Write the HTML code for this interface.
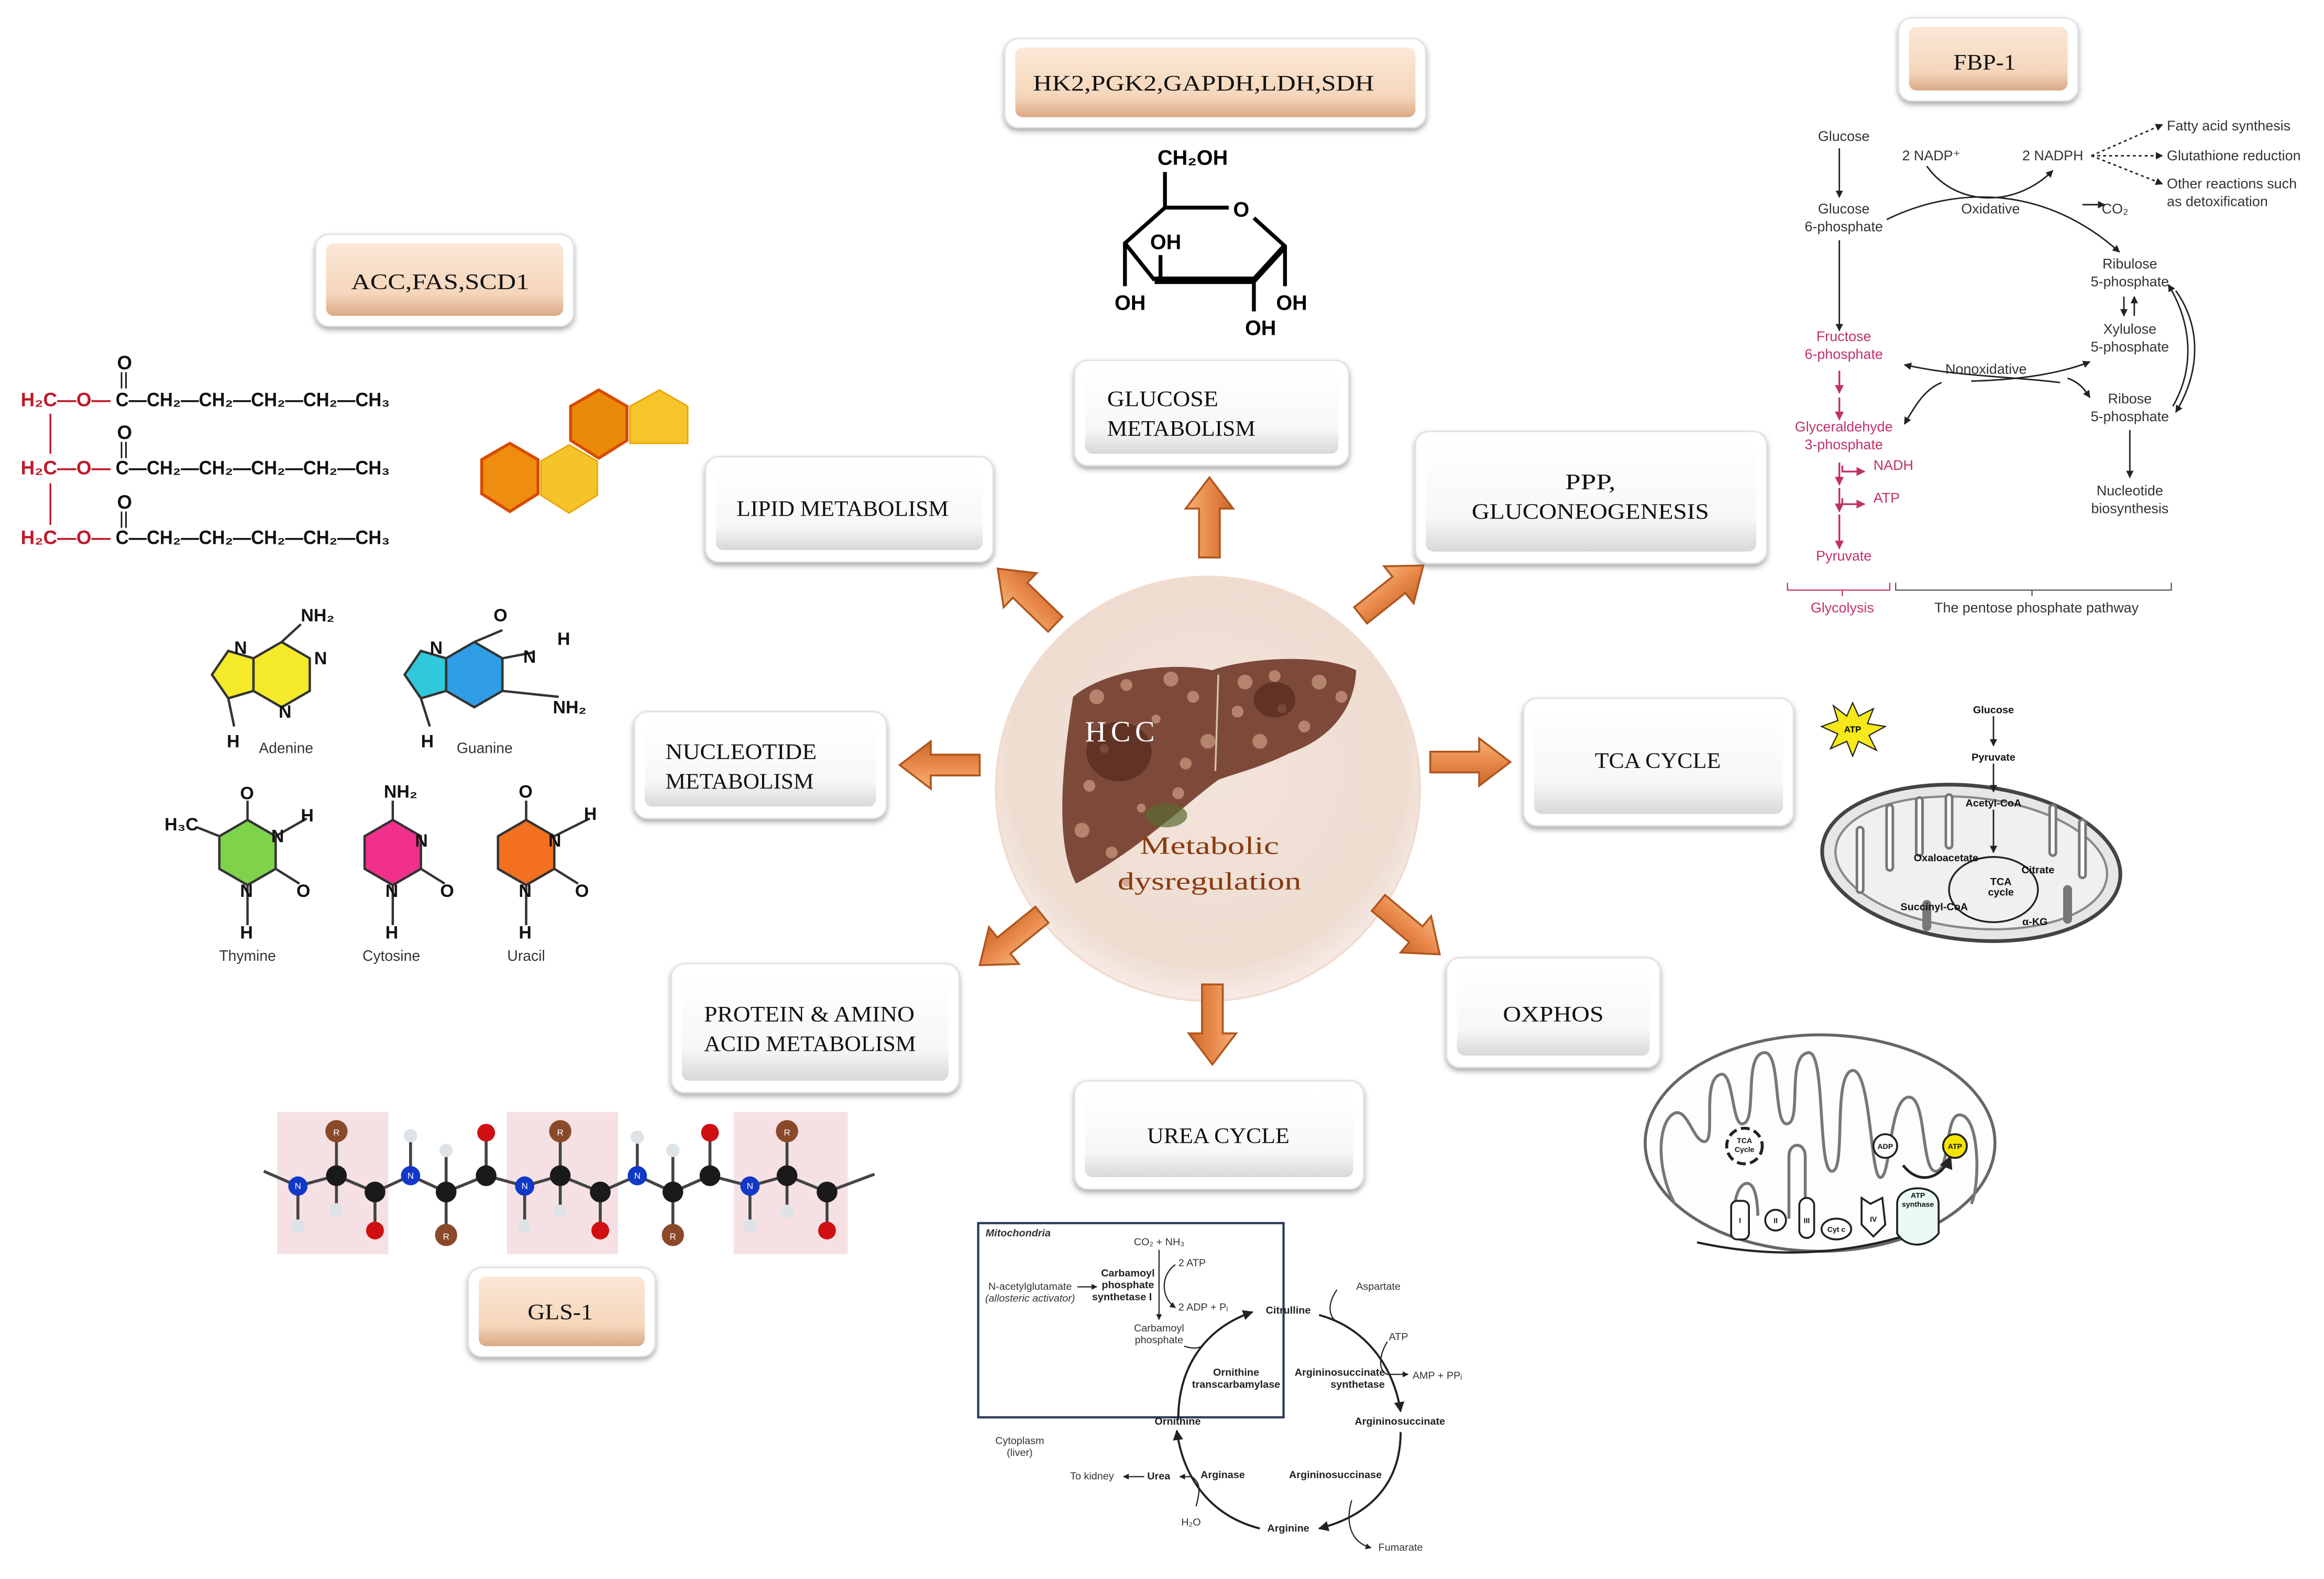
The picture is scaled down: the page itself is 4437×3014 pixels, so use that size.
<!DOCTYPE html>
<html><head><meta charset="utf-8"><style>
html,body{margin:0;padding:0;background:#fff;}
svg{display:block;}
text{font-family:"Liberation Sans",sans-serif;}
text.bx{font-family:"Liberation Serif","Noto Serif CJK SC",serif;font-size:15px;fill:#111;}
text.sf{font-family:"Liberation Serif",serif;}
.pp{font-size:9.5px;fill:#333;}
.pk{font-size:9.5px;fill:#c0306a;}
.ur{font-size:7px;fill:#333;}
.ub{font-size:7px;fill:#222;font-weight:bold;}
.ch{font-weight:bold;font-size:13px;}
</style></head><body>
<svg xmlns="http://www.w3.org/2000/svg" width="4437" height="3014" viewBox="0 0 1568 1065">
<defs>
<linearGradient id="gw" x1="0" y1="0" x2="0" y2="1"><stop offset="0" stop-color="#ffffff"/><stop offset="0.7" stop-color="#f7f7f7"/><stop offset="1" stop-color="#d8d8d8"/></linearGradient>
<linearGradient id="gb" x1="0" y1="0" x2="0" y2="1"><stop offset="0" stop-color="#fbe8d6"/><stop offset="0.7" stop-color="#f5d6bb"/><stop offset="1" stop-color="#d9a985"/></linearGradient>
<radialGradient id="gc" cx="0.5" cy="0.45" r="0.55"><stop offset="0" stop-color="#f3e4dc"/><stop offset="0.85" stop-color="#eedcd0"/><stop offset="1" stop-color="#f6ece6"/></radialGradient>
<linearGradient id="ga" x1="0" y1="0" x2="0" y2="1"><stop offset="0" stop-color="#f7b27a"/><stop offset="0.5" stop-color="#e8894a"/><stop offset="1" stop-color="#c8682c"/></linearGradient>
<filter id="sh" x="-10%" y="-10%" width="120%" height="130%"><feGaussianBlur in="SourceAlpha" stdDeviation="2"/><feOffset dy="2"/><feComponentTransfer><feFuncA type="linear" slope="0.35"/></feComponentTransfer><feMerge><feMergeNode/><feMergeNode in="SourceGraphic"/></feMerge></filter>
<path id="arr" d="M0,-7 L33,-7 L33,-16 L54,0 L33,16 L33,7 L0,7 Z" fill="url(#ga)" stroke="#b0561e" stroke-width="1.3"/>
<marker id="mk" viewBox="0 0 10 10" refX="9" refY="5" markerWidth="5" markerHeight="5" orient="auto"><path d="M0,0 L10,5 L0,10 Z" fill="#222"/></marker>
<marker id="mp" viewBox="0 0 10 10" refX="9" refY="5" markerWidth="5" markerHeight="5" orient="auto"><path d="M0,0 L10,5 L0,10 Z" fill="#c0306a"/></marker>
</defs>

<!-- ===== Boxes ===== -->
<g filter="url(#sh)">
<rect x="678" y="26" width="284" height="60" rx="9" fill="#fff" stroke="#e2e2e2"/>
<rect x="685" y="32" width="270" height="47" rx="5" fill="url(#gb)"/>
<rect x="1281" y="12" width="121" height="56" rx="9" fill="#fff" stroke="#e2e2e2"/>
<rect x="1288" y="18" width="107" height="43" rx="5" fill="url(#gb)"/>
<rect x="213" y="158" width="174" height="62" rx="9" fill="#fff" stroke="#e2e2e2"/>
<rect x="220" y="164" width="160" height="49" rx="5" fill="url(#gb)"/>
<rect x="316" y="855" width="126" height="60" rx="9" fill="#fff" stroke="#e2e2e2"/>
<rect x="323" y="861" width="112" height="47" rx="5" fill="url(#gb)"/>

<rect x="725" y="243" width="185" height="71" rx="9" fill="#fff" stroke="#e2e2e2"/>
<rect x="732" y="250" width="171" height="56" rx="5" fill="url(#gw)"/>
<rect x="476" y="308" width="194" height="71" rx="9" fill="#fff" stroke="#e2e2e2"/>
<rect x="483" y="315" width="180" height="56" rx="5" fill="url(#gw)"/>
<rect x="955" y="291" width="237" height="89" rx="9" fill="#fff" stroke="#e2e2e2"/>
<rect x="962" y="298" width="223" height="74" rx="5" fill="url(#gw)"/>
<rect x="428" y="480" width="170" height="72" rx="9" fill="#fff" stroke="#e2e2e2"/>
<rect x="435" y="487" width="156" height="57" rx="5" fill="url(#gw)"/>
<rect x="1028" y="471" width="182" height="86" rx="9" fill="#fff" stroke="#e2e2e2"/>
<rect x="1035" y="478" width="168" height="71" rx="5" fill="url(#gw)"/>
<rect x="453" y="650" width="194" height="87" rx="9" fill="#fff" stroke="#e2e2e2"/>
<rect x="460" y="657" width="180" height="72" rx="5" fill="url(#gw)"/>
<rect x="976" y="646" width="144" height="74" rx="9" fill="#fff" stroke="#e2e2e2"/>
<rect x="983" y="653" width="130" height="59" rx="5" fill="url(#gw)"/>
<rect x="725" y="729" width="195" height="73" rx="9" fill="#fff" stroke="#e2e2e2"/>
<rect x="732" y="736" width="181" height="58" rx="5" fill="url(#gw)"/>
</g>
<text class="bx" x="697" y="61" textLength="230" lengthAdjust="spacingAndGlyphs">HK2,PGK2,GAPDH,LDH,SDH</text>
<text class="bx" x="1318" y="47" textLength="42" lengthAdjust="spacingAndGlyphs">FBP-1</text>
<text class="bx" x="237" y="195" textLength="120" lengthAdjust="spacingAndGlyphs">ACC,FAS,SCD1</text>
<text class="bx" x="356" y="890" textLength="44" lengthAdjust="spacingAndGlyphs">GLS-1</text>
<text class="bx" x="747" y="274" textLength="75" lengthAdjust="spacingAndGlyphs">GLUCOSE</text>
<text class="bx" x="747" y="294" textLength="100" lengthAdjust="spacingAndGlyphs">METABOLISM</text>
<text class="bx" x="497" y="348" textLength="143" lengthAdjust="spacingAndGlyphs">LIPID METABOLISM</text>
<text class="bx" x="1056" y="330" textLength="34" lengthAdjust="spacingAndGlyphs">PPP,</text>
<text class="bx" x="993" y="350" textLength="160" lengthAdjust="spacingAndGlyphs">GLUCONEOGENESIS</text>
<text class="bx" x="449" y="512" textLength="102" lengthAdjust="spacingAndGlyphs">NUCLEOTIDE</text>
<text class="bx" x="449" y="532" textLength="100" lengthAdjust="spacingAndGlyphs">METABOLISM</text>
<text class="bx" x="1076" y="518" textLength="85" lengthAdjust="spacingAndGlyphs">TCA CYCLE</text>
<text class="bx" x="475" y="689" textLength="142" lengthAdjust="spacingAndGlyphs">PROTEIN &amp; AMINO</text>
<text class="bx" x="475" y="709" textLength="143" lengthAdjust="spacingAndGlyphs">ACID METABOLISM</text>
<text class="bx" x="1014" y="689" textLength="68" lengthAdjust="spacingAndGlyphs">OXPHOS</text>
<text class="bx" x="774" y="771" textLength="96" lengthAdjust="spacingAndGlyphs">UREA CYCLE</text>

<!-- ===== Center ===== -->
<circle cx="815" cy="532" r="143" fill="url(#gc)" stroke="#f2dccf" stroke-width="1.5"/>
<path d="M724,470 C745,452 790,446 818,452 C840,444 890,440 915,452 C914,478 898,498 870,508 C850,518 832,522 822,526 C800,542 770,572 726,596 C712,570 716,520 724,470 Z" fill="#7d4a3a"/>
<g fill="#c8987f" opacity="0.75">
<circle cx="740" cy="470" r="5"/><circle cx="760" cy="462" r="4"/><circle cx="790" cy="458" r="5"/><circle cx="805" cy="470" r="4"/><circle cx="815" cy="500" r="5"/><circle cx="780" cy="485" r="3"/><circle cx="800" cy="515" r="4"/><circle cx="735" cy="530" r="4"/><circle cx="730" cy="560" r="5"/><circle cx="750" cy="575" r="4"/><circle cx="770" cy="545" r="3"/><circle cx="795" cy="535" r="4"/><circle cx="840" cy="460" r="5"/><circle cx="860" cy="456" r="4"/><circle cx="890" cy="460" r="5"/><circle cx="905" cy="470" r="4"/><circle cx="880" cy="490" r="4"/><circle cx="850" cy="500" r="5"/><circle cx="835" cy="480" r="4"/><circle cx="865" cy="478" r="3"/><circle cx="745" cy="505" r="3"/><circle cx="760" cy="595" r="3"/></g>
<ellipse cx="755" cy="507" rx="22" ry="20" fill="#4f2418" opacity="0.6"/>
<ellipse cx="860" cy="472" rx="14" ry="12" fill="#4f2418" opacity="0.6"/>
<path d="M822,455 L820,520" stroke="#d8c0b0" stroke-width="1.2"/>
<ellipse cx="787" cy="550" rx="14" ry="8" fill="#5a6a30" opacity="0.7"/>
<text class="sf" x="732" y="500" font-size="20" fill="#fff" letter-spacing="3">HCC</text>
<text class="sf" x="816" y="576" text-anchor="middle" font-size="17" fill="#8a3a10" textLength="94" lengthAdjust="spacingAndGlyphs">Metabolic</text>
<text class="sf" x="816" y="600" text-anchor="middle" font-size="17" fill="#8a3a10" textLength="124" lengthAdjust="spacingAndGlyphs">dysregulation</text>

<!-- arrows -->
<use href="#arr" transform="translate(816,376) rotate(-90)"/>
<use href="#arr" transform="translate(712,421) rotate(-136)"/>
<use href="#arr" transform="translate(918,415) rotate(-38.5)"/>
<use href="#arr" transform="translate(661,516) rotate(180)"/>
<use href="#arr" transform="translate(965,514)"/>
<use href="#arr" transform="translate(703,617) rotate(141)"/>
<use href="#arr" transform="translate(930,609) rotate(40)"/>
<use href="#arr" transform="translate(818,664) rotate(90)"/>

<!-- ===== Glucose structure ===== -->
<g stroke="#000" stroke-width="2.6" fill="none">
<path d="M786,116 L786,140 L829,140"/>
<path d="M846,147 L867,166 L867,193"/>
<path d="M786,140 L759,164 L759,193"/>
<path d="M759,164 L779,189"/>
<path d="M779,189 L846,189" stroke-width="5"/>
<path d="M846,189 L867,166" stroke-width="4"/>
<path d="M846,189 L846,210"/>
<path d="M783,172 L783,187"/>
</g>
<g font-weight="bold" font-size="14" fill="#000">
<text x="781" y="111">CH₂OH</text>
<text x="832" y="146">O</text>
<text x="776" y="168">OH</text>
<text x="752" y="209">OH</text>
<text x="861" y="209">OH</text>
<text x="840" y="226">OH</text>
</g>

<!-- ===== Lipid ===== -->
<g class="ch">
<text x="14" y="274" fill="#c01828">H₂C—O—</text><text x="78" y="274" fill="#111" textLength="185" lengthAdjust="spacingAndGlyphs">C—CH₂—CH₂—CH₂—CH₂—CH₃</text>
<text x="14" y="320" fill="#c01828">H₂C—O—</text><text x="78" y="320" fill="#111" textLength="185" lengthAdjust="spacingAndGlyphs">C—CH₂—CH₂—CH₂—CH₂—CH₃</text>
<text x="14" y="367" fill="#c01828">H₂C—O—</text><text x="78" y="367" fill="#111" textLength="185" lengthAdjust="spacingAndGlyphs">C—CH₂—CH₂—CH₂—CH₂—CH₃</text>
<text x="79" y="249" fill="#111">O</text><text x="79" y="296" fill="#111">O</text><text x="79" y="343" fill="#111">O</text>
</g>
<g stroke="#111" stroke-width="1"><path d="M82,251 V262 M85,251 V262 M82,298 V309 M85,298 V309 M82,345 V356 M85,345 V356"/></g>
<path d="M34,279 V306 M34,326 V354" stroke="#c01828" stroke-width="1.2"/>
<polygon points="344,299 363,310 363,333 344,345 325,333 325,310" fill="#ee8d10" stroke="#d84a00" stroke-width="2"/>
<polygon points="384,300 403,311 403,334 384,346 365,334 365,311" fill="#f5c42a" stroke="#eaa400" stroke-width="1"/>
<polygon points="404,263 423,274 423,297 404,309 385,297 385,274" fill="#e98a0a" stroke="#d84a00" stroke-width="2"/>
<polygon points="445,263 464,274 464,299 425,299 425,274" fill="#f6c52a" stroke="#eaa400" stroke-width="1"/>

<!-- ===== Nucleobases ===== -->
<g stroke="#333" stroke-width="1.6">
<polygon points="190,433 209,444 209,466 190,477 171,466 171,444" fill="#f5ea2a"/>
<polygon points="171,444 171,466 154,471 143,455 154,439" fill="#f5ea2a"/>
<polygon points="320,433 339,444 339,466 320,477 301,466 301,444" fill="#2f9ee6"/>
<polygon points="301,444 301,466 284,471 273,455 284,439" fill="#2fc9d9"/>
<polygon points="167,553 186,564 186,586 167,597 148,586 148,564" fill="#7ed34a"/>
<polygon points="265,553 284,564 284,586 265,597 246,586 246,564" fill="#f0308a"/>
<polygon points="355,553 374,564 374,586 355,597 336,586 336,564" fill="#f27020"/>
<path d="M203,421 L190,433 M158,490 L154,471 M339,425 L320,433 M360,440 L339,444 M377,470 L339,466 M290,490 L284,471 M133,558 L148,564 M167,540 L167,553 M186,586 L202,596 M207,552 L186,564 M167,597 L167,624 M265,540 L265,553 M284,586 L300,596 M265,597 L265,624 M355,540 L355,553 M374,586 L390,596 M398,552 L374,564 M355,597 L355,624" fill="none"/>
</g>
<g font-size="12" font-weight="bold" fill="#111">
<text x="203" y="419">NH₂</text><text x="153" y="504">H</text><text x="158" y="441">N</text><text x="212" y="448">N</text><text x="188" y="484">N</text>
<text x="333" y="419">O</text><text x="376" y="435">H</text><text x="373" y="481">NH₂</text><text x="284" y="504">H</text><text x="353" y="447">N</text><text x="290" y="441">N</text>
<text x="111" y="560">H₃C</text><text x="162" y="539">O</text><text x="203" y="554">H</text><text x="200" y="605">O</text><text x="162" y="633">H</text><text x="183" y="568">N</text><text x="162" y="605">N</text>
<text x="259" y="538">NH₂</text><text x="297" y="605">O</text><text x="260" y="633">H</text><text x="280" y="571">N</text><text x="260" y="605">N</text>
<text x="350" y="538">O</text><text x="394" y="553">H</text><text x="388" y="605">O</text><text x="350" y="633">H</text><text x="370" y="571">N</text><text x="350" y="605">N</text>
</g>
<g font-size="10" fill="#333">
<text x="193" y="508" text-anchor="middle">Adenine</text><text x="327" y="508" text-anchor="middle">Guanine</text>
<text x="167" y="648" text-anchor="middle">Thymine</text><text x="264" y="648" text-anchor="middle">Cytosine</text><text x="355" y="648" text-anchor="middle">Uracil</text>
</g>

<!-- ===== Peptide ===== -->
<g fill="#f5e1e3"><rect x="187" y="750" width="75" height="96"/><rect x="342" y="750" width="75" height="96"/><rect x="495" y="750" width="77" height="96"/></g>
<g stroke="#444" stroke-width="2" fill="none">
<path d="M178,790 L201,800 L227,793 L253,804 L277,793 L301,804 L328,793 L354,800 L378,793 L405,804 L430,793 L454,804 L479,793 L506,800 L531,793 L558,804 L590,792"/>
<path d="M227,763 V816 M253,804 V830 M277,793 V766 M301,776 V833 M328,793 V764 M354,800 V827 M378,763 V817 M405,804 V830 M430,793 V767 M454,776 V833 M479,793 V764 M506,800 V827 M531,763 V817 M558,804 V830 M201,800 V827"/>
</g>
<g font-size="6" text-anchor="middle" fill="#fff">
<g fill="#1a1a1a"><circle cx="227" cy="793" r="7"/><circle cx="253" cy="804" r="7"/><circle cx="301" cy="804" r="7"/><circle cx="328" cy="793" r="7"/><circle cx="378" cy="793" r="7"/><circle cx="405" cy="804" r="7"/><circle cx="454" cy="804" r="7"/><circle cx="479" cy="793" r="7"/><circle cx="531" cy="793" r="7"/><circle cx="558" cy="804" r="7"/></g>
<g fill="#1238c8"><circle cx="201" cy="800" r="6.5"/><circle cx="277" cy="793" r="6.5"/><circle cx="354" cy="800" r="6.5"/><circle cx="430" cy="793" r="6.5"/><circle cx="506" cy="800" r="6.5"/></g>
<g fill="#8a4a2a"><circle cx="227" cy="763" r="7.5"/><circle cx="301" cy="833" r="7.5"/><circle cx="378" cy="763" r="7.5"/><circle cx="454" cy="833" r="7.5"/><circle cx="531" cy="763" r="7.5"/></g>
<g fill="#d01010"><circle cx="253" cy="830" r="6"/><circle cx="328" cy="764" r="6"/><circle cx="405" cy="830" r="6"/><circle cx="479" cy="764" r="6"/><circle cx="558" cy="830" r="6"/></g>
<g fill="#dde3e6"><circle cx="227" cy="816" r="4.5"/><circle cx="201" cy="827" r="4.5"/><circle cx="277" cy="766" r="4.5"/><circle cx="301" cy="776" r="4.5"/><circle cx="354" cy="827" r="4.5"/><circle cx="378" cy="817" r="4.5"/><circle cx="430" cy="767" r="4.5"/><circle cx="454" cy="776" r="4.5"/><circle cx="506" cy="827" r="4.5"/><circle cx="531" cy="817" r="4.5"/></g>
<text x="227" y="766">R</text><text x="301" y="836">R</text><text x="378" y="766">R</text><text x="454" y="836">R</text><text x="531" y="766">R</text>
<text x="201" y="802">N</text><text x="277" y="795">N</text><text x="354" y="802">N</text><text x="430" y="795">N</text><text x="506" y="802">N</text>
</g>

<!-- ===== Pentose phosphate pathway ===== -->
<g text-anchor="middle">
<text class="pp" x="1244" y="95">Glucose</text>
<text class="pp" x="1303" y="108">2 NADP⁺</text>
<text class="pp" x="1385" y="108">2 NADPH</text>
<text class="pp" x="1244" y="144">Glucose</text><text class="pp" x="1244" y="156">6-phosphate</text>
<text class="pp" x="1343" y="144">Oxidative</text>
<text class="pp" x="1427" y="144">CO₂</text>
<text class="pp" x="1437" y="181">Ribulose</text><text class="pp" x="1437" y="193">5-phosphate</text>
<text class="pp" x="1437" y="225">Xylulose</text><text class="pp" x="1437" y="237">5-phosphate</text>
<text class="pk" x="1244" y="230">Fructose</text><text class="pk" x="1244" y="242">6-phosphate</text>
<text class="pp" x="1340" y="252">Nonoxidative</text>
<text class="pp" x="1437" y="272">Ribose</text><text class="pp" x="1437" y="284">5-phosphate</text>
<text class="pk" x="1244" y="291">Glyceraldehyde</text><text class="pk" x="1244" y="303">3-phosphate</text>
<text class="pp" x="1437" y="334">Nucleotide</text><text class="pp" x="1437" y="346">biosynthesis</text>
<text class="pk" x="1244" y="378">Pyruvate</text>
<text class="pk" x="1243" y="413">Glycolysis</text>
<text class="pp" x="1374" y="413">The pentose phosphate pathway</text>
</g>
<text class="pk" x="1264" y="317">NADH</text>
<text class="pk" x="1264" y="339">ATP</text>
<text class="pp" x="1462" y="88">Fatty acid synthesis</text>
<text class="pp" x="1462" y="108">Glutathione reduction</text>
<text class="pp" x="1462" y="127">Other reactions such</text>
<text class="pp" x="1462" y="139">as detoxification</text>
<g stroke="#222" stroke-width="1" fill="none" marker-end="url(#mk)">
<path d="M1241,100 V133"/><path d="M1241,162 V223"/><path d="M1437,290 V322"/>
<path d="M1273,148 C1320,125 1380,125 1430,170"/>
<path d="M1300,112 C1320,140 1360,140 1385,115"/>
<path d="M1405,138 H1420"/>
<path d="M1390,258 C1360,254 1320,254 1285,246"/>
<path d="M1330,257 C1370,256 1395,250 1410,244"/>
<path d="M1395,255 C1403,258 1406,262 1410,268"/>
<path d="M1310,258 C1300,262 1294,270 1285,286"/>
<path d="M1411,105 L1459,84" stroke-dasharray="2,2"/>
<path d="M1411,105 L1459,105" stroke-dasharray="2,2"/>
<path d="M1411,105 L1459,124" stroke-dasharray="2,2"/>
<path d="M1468,196 C1485,220 1485,250 1468,278"/>
<path d="M1466,274 C1480,250 1480,220 1463,192"/>
<path d="M1433,200 V213"/><path d="M1440,213 V200"/>
</g>
<g stroke="#c0306a" stroke-width="1.2" fill="none" marker-end="url(#mp)">
<path d="M1241,250 V265"/><path d="M1241,268 V283"/><path d="M1241,312 V327"/><path d="M1241,329 V345"/><path d="M1241,347 V370"/>
<path d="M1243,314 V318 H1258"/><path d="M1243,336 V340 H1258"/>
</g>
<path d="M1206,393 V398 H1275 V393 M1243,398 V402" stroke="#c0306a" fill="none" stroke-width="0.8"/>
<path d="M1279,393 V398 H1465 V393 M1371,398 V402" stroke="#555" fill="none" stroke-width="0.8"/>

<!-- ===== TCA mito ===== -->
<ellipse cx="1330" cy="582" rx="101" ry="52" fill="#e6e6e6" stroke="#444" stroke-width="2.5" transform="rotate(6 1330 582)"/>
<ellipse cx="1330" cy="582" rx="92" ry="44" fill="#f0f0f0" stroke="#888" stroke-width="1.5" transform="rotate(6 1330 582)"/>
<g stroke="#777" stroke-width="6" fill="none" stroke-linecap="round">
<path d="M1255,560 V600 M1275,545 V585 M1295,540 V575 M1315,538 V570 M1385,545 V575 M1405,555 V590 M1300,610 V625 M1395,600 V620"/>
</g>
<g stroke="#fff" stroke-width="2.5" fill="none" stroke-linecap="round">
<path d="M1255,560 V600 M1275,545 V585 M1295,540 V575 M1315,538 V570 M1385,545 V575 M1405,555 V590"/>
</g>
<ellipse cx="1345" cy="600" rx="30" ry="22" fill="none" stroke="#222" stroke-width="1.2" marker-end="url(#mk)"/>
<g stroke="#222" stroke-width="1" marker-end="url(#mk)"><path d="M1345,483 V503"/><path d="M1345,515 V534"/><path d="M1345,546 V575"/></g>
<g font-size="7" font-weight="bold" text-anchor="middle" fill="#111">
<text x="1345" y="481">Glucose</text><text x="1345" y="513">Pyruvate</text><text x="1345" y="544">Acetyl-CoA</text>
<text x="1313" y="581">Oxaloacetate</text><text x="1375" y="589">Citrate</text><text x="1350" y="597">TCA</text><text x="1350" y="604">cycle</text>
<text x="1305" y="614">Succinyl-CoA</text><text x="1373" y="624">α-KG</text>
</g>
<polygon points="1250,474 1254,483 1264,478 1260,488 1272,490 1261,496 1266,506 1254,500 1250,510 1246,500 1235,505 1240,495 1229,490 1240,486 1237,476 1246,483" fill="#f7e81a" stroke="#222" stroke-width="0.8"/>
<text x="1250" y="494" font-size="6" font-weight="bold" text-anchor="middle">ATP</text>

<!-- ===== OXPHOS mito ===== -->
<ellipse cx="1228" cy="771" rx="118" ry="73" fill="#fdfdfd" stroke="#666" stroke-width="2"/>
<path d="M1130,812 C1118,790 1118,760 1128,752 C1138,744 1142,770 1150,770 C1158,770 1148,730 1160,725 C1170,720 1168,760 1176,758 C1186,756 1176,712 1190,710 C1202,708 1196,760 1206,758 C1216,756 1205,712 1220,710 C1232,708 1226,790 1236,790 C1246,790 1236,724 1250,722 C1262,722 1262,790 1268,794 C1276,798 1274,740 1288,740 C1300,740 1296,790 1306,790 C1316,790 1312,752 1322,752 C1336,752 1336,800 1330,812" fill="none" stroke="#777" stroke-width="2"/>
<path d="M1170,820 C1170,800 1178,795 1182,800 C1186,805 1186,820 1186,820 M1207,822 V780 C1207,770 1218,770 1218,780 V822" fill="none" stroke="#777" stroke-width="2"/>
<path d="M1145,838 C1200,850 1250,845 1290,832" fill="none" stroke="#222" stroke-width="1.5" marker-end="url(#mk)"/>
<path d="M1284,786 C1295,800 1310,795 1316,780" fill="none" stroke="#222" stroke-width="1.8" marker-end="url(#mk)"/>
<g fill="#fff" stroke="#222" stroke-width="1.3">
<rect x="1168" y="810" width="12" height="26" rx="4"/>
<circle cx="1198" cy="823" r="7"/>
<rect x="1214" y="808" width="10" height="27" rx="5"/>
<ellipse cx="1239" cy="829" rx="10" ry="7"/>
<path d="M1256,808 L1262,812 L1270,808 L1272,826 L1264,834 L1256,826 Z"/>
<path d="M1280,812 C1280,798 1308,798 1308,812 V832 C1300,842 1286,842 1280,832 Z" fill="#eafaf6"/>
<circle cx="1272" cy="773" r="8"/>
<circle cx="1319" cy="773" r="8" fill="#f5e400"/>
</g>
<circle cx="1177" cy="773" r="12" fill="none" stroke="#222" stroke-width="2" stroke-dasharray="6,3"/>
<g font-size="5" font-weight="bold" text-anchor="middle" fill="#111">
<text x="1177" y="771">TCA</text><text x="1177" y="777">Cycle</text><text x="1272" y="775">ADP</text><text x="1319" y="775">ATP</text><text x="1294" y="808">ATP</text><text x="1294" y="814">synthase</text>
<text x="1174" y="825">I</text><text x="1198" y="825">II</text><text x="1219" y="825">III</text><text x="1239" y="831">Cyt c</text><text x="1264" y="824">IV</text>
</g>

<!-- ===== Urea cycle ===== -->
<rect x="660" y="825" width="206" height="131" fill="#fff" stroke="#2a3a5a" stroke-width="1.5"/>
<g fill="none" stroke="#222" stroke-width="1.4">
<path d="M795,957 C795,920 815,895 845,885" marker-end="url(#mk)"/>
<path d="M890,887 C920,895 940,920 945,952" marker-end="url(#mk)"/>
<path d="M945,966 C945,1000 925,1022 890,1031" marker-end="url(#mk)"/>
<path d="M850,1031 C815,1022 798,995 794,965" marker-end="url(#mk)"/>
</g>
<g fill="none" stroke="#222" stroke-width="0.8">
<path d="M782,843 V890" marker-end="url(#mk)"/>
<path d="M793,853 C783,860 783,875 793,882" marker-end="url(#mk)"/>
<path d="M727,868 H740" marker-end="url(#mk)"/>
<path d="M799,908 C805,910 810,910 813,906"/>
<path d="M902,870 C895,880 896,890 905,893"/>
<path d="M936,905 C930,915 930,925 936,927 H950" marker-end="url(#mk)"/>
<path d="M912,1012 C908,1025 910,1040 925,1044" marker-end="url(#mk)"/>
<path d="M807,1016 C810,1005 810,1000 804,996 H796" marker-end="url(#mk)"/>
<path d="M772,996 H758" marker-end="url(#mk)"/>
</g>
<text class="ur" x="665" y="834" font-style="italic" font-weight="bold">Mitochondria</text>
<text class="ur" x="765" y="840">CO₂ + NH₃</text>
<text class="ur" x="795" y="854">2 ATP</text>
<g text-anchor="middle">
<text class="ub" x="761" y="861">Carbamoyl</text><text class="ub" x="761" y="869">phosphate</text><text class="ub" x="757" y="877">synthetase I</text>
<text class="ur" x="695" y="870">N-acetylglutamate</text><text class="ur" x="695" y="878" font-style="italic">(allosteric activator)</text>
<text class="ur" x="782" y="898">Carbamoyl</text><text class="ur" x="782" y="906">phosphate</text>
<text class="ub" x="834" y="928">Ornithine</text><text class="ub" x="834" y="936">transcarbamylase</text>
<text class="ub" x="904" y="928">Argininosuccinate</text><text class="ub" x="916" y="936">synthetase</text>
<text class="ur" x="688" y="974">Cytoplasm</text><text class="ur" x="688" y="982">(liver)</text>
<text class="ub" x="901" y="997">Argininosuccinase</text>
</g>
<text class="ur" x="795" y="884">2 ADP + Pᵢ</text>
<text class="ub" x="854" y="886">Citrulline</text>
<text class="ur" x="915" y="870">Aspartate</text>
<text class="ur" x="937" y="904">ATP</text>
<text class="ur" x="953" y="930">AMP + PPᵢ</text>
<text class="ub" x="779" y="961">Ornithine</text>
<text class="ub" x="914" y="961">Argininosuccinate</text>
<text class="ur" x="722" y="998">To kidney</text>
<text class="ub" x="774" y="998">Urea</text>
<text class="ub" x="810" y="997">Arginase</text>
<text class="ur" x="797" y="1029">H₂O</text>
<text class="ub" x="855" y="1033">Arginine</text>
<text class="ur" x="930" y="1046">Fumarate</text>
</svg>
</body></html>
